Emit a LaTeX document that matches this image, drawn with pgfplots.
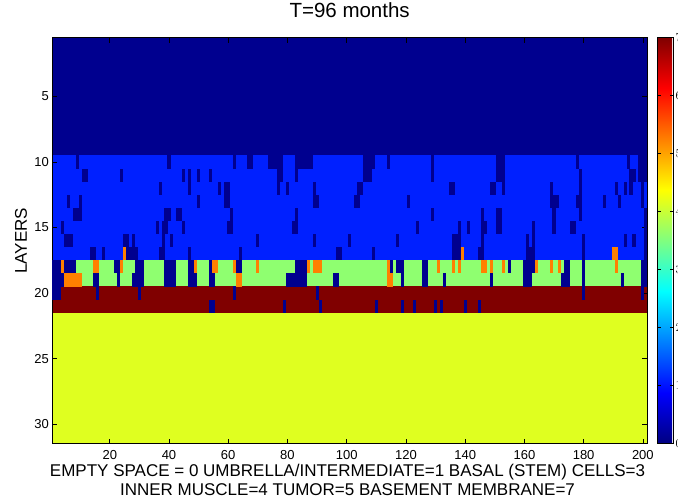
\documentclass[border=0pt]{standalone}
\usepackage{fontspec}
\setmainfont{Liberation Sans}
\usepackage{pgfplots}
\pgfplotsset{compat=1.18}
\definecolor{c0}{RGB}{0,0,143}
\definecolor{c1}{RGB}{0,32,255}
\definecolor{c3}{RGB}{143,255,112}
\definecolor{c4}{RGB}{223,255,32}
\definecolor{c5}{RGB}{255,128,0}
\definecolor{c7}{RGB}{128,0,0}
\pgfdeclareplotmark{cell}{\pgfpathrectangle{\pgfqpoint{-1.53pt}{-6.6pt}}{\pgfqpoint{3.06pt}{13.2pt}}\pgfusepathqfill}
\begin{document}
\begin{tikzpicture}
\useasboundingbox (-52pt,-58.3pt) rectangle (626pt,443.7pt);
\begin{axis}[
  at={(0pt,0pt)}, anchor=south west,
  scale only axis, width=595.3pt, height=406.1pt,
  xmin=0.5, xmax=201.5, ymin=0.5, ymax=31.5, y dir=reverse,
  xtick={20,40,...,200}, ytick={5,10,...,30},
  axis on top, tick align=inside, major tick length=5pt,
  axis line style={line width=0.9pt},
  every tick/.style={black, line width=0.6pt},
  ticklabel style={font=\fontsize{13}{13}\selectfont},
  /pgf/number format/assume math mode=true,
  xticklabel style={anchor=base, yshift=-15.6pt},
  yticklabel style={anchor=east, inner sep=0pt, xshift=-3pt},
  title={T=96 months},
  title style={font=\fontsize{20.5}{20.5}\selectfont, at={(axis description cs:0.5,1)}, anchor=base, yshift=14.3pt},
  ylabel={LAYERS},
  ylabel style={font=\fontsize{17}{17}\selectfont, at={(axis description cs:-0.042,0.5)}, anchor=base},
  xlabel={EMPTY SPACE = 0 UMBRELLA/INTERMEDIATE=1 BASAL (STEM) CELLS=3\\INNER MUSCLE=4 TUMOR=5 BASEMENT MEMBRANE=7},
  xlabel style={font=\fontsize{17}{19}\selectfont, align=center, at={(axis description cs:0.4964,0)}, anchor=north, inner sep=0pt, yshift=-20pt},
  colormap/jet, colorbar, point meta min=0, point meta max=7,
  colorbar style={at={(parent axis.north east)}, anchor=north west, xshift=2pt, width=15.4pt,
    y dir=normal, ytick={0,...,7}, xtick=\empty,
    yticklabel style={font=\fontsize{13}{13}\selectfont, anchor=west, inner sep=0pt, xshift=2.3pt},
    major tick length=3pt, tick align=inside, axis line style={line width=0.9pt}},
]
% background layers
\addplot[fill=c0, draw=none] coordinates {(0.5,0.5) (201.5,0.5) (201.5,9.5) (0.5,9.5)} -- cycle;
\addplot[fill=c1, draw=none] coordinates {(0.5,9.5) (201.5,9.5) (201.5,17.5) (0.5,17.5)} -- cycle;
\addplot[fill=c3, draw=none] coordinates {(0.5,17.5) (201.5,17.5) (201.5,19.5) (0.5,19.5)} -- cycle;
\addplot[fill=c7, draw=none] coordinates {(0.5,19.5) (201.5,19.5) (201.5,21.5) (0.5,21.5)} -- cycle;
\addplot[fill=c4, draw=none] coordinates {(0.5,21.5) (201.5,21.5) (201.5,31.5) (0.5,31.5)} -- cycle;
% empty space cells (0)
\addplot[only marks, mark=cell, color=c0] coordinates {
(9,10)(40,10)(62,10)(67,10)(68,10)(74,10)(75,10)(76,10)(77,10)(78,10)(83,10)(84,10)(85,10)(86,10)(87,10)(88,10)(106,10)(107,10)(108,10)(109,10)(114,10)(129,10)(151,10)(152,10)(153,10)(178,10)(195,10)(199,10)(200,10)(201,10)
(11,11)(12,11)(24,11)(45,11)(47,11)(50,11)(54,11)(77,11)(78,11)(83,11)(106,11)(107,11)(108,11)(129,11)(151,11)(152,11)(153,11)(179,11)(196,11)(197,11)(199,11)(200,11)(201,11)
(37,12)(47,12)(57,12)(59,12)(60,12)(77,12)(80,12)(89,12)(104,12)(105,12)(135,12)(136,12)(149,12)(150,12)(153,12)(169,12)(179,12)(191,12)(194,12)(196,12)(200,12)
(6,13)(10,13)(50,13)(59,13)(60,13)(89,13)(90,13)(103,13)(104,13)(121,13)(169,13)(170,13)(171,13)(178,13)(179,13)(187,13)(192,13)(200,13)
(8,14)(9,14)(10,14)(39,14)(40,14)(43,14)(44,14)(61,14)(83,14)(129,14)(146,14)(151,14)(152,14)(170,14)(179,14)(201,14)
(4,15)(36,15)(38,15)(39,15)(45,15)(60,15)(61,15)(82,15)(83,15)(124,15)(138,15)(141,15)(146,15)(147,15)(151,15)(152,15)(163,15)(170,15)(176,15)(177,15)(201,15)
(5,16)(6,16)(7,16)(25,16)(26,16)(28,16)(38,16)(41,16)(70,16)(89,16)(101,16)(117,16)(136,16)(137,16)(138,16)(146,16)(161,16)(163,16)(180,16)(194,16)(197,16)(201,16)
(14,17)(15,17)(18,17)(26,17)(27,17)(28,17)(29,17)(37,17)(38,17)(47,17)(64,17)(97,17)(98,17)(109,17)(136,17)(137,17)(138,17)(145,17)(146,17)(161,17)(162,17)(163,17)(180,17)(201,17)
(1,18)(2,18)(3,18)(5,18)(6,18)(7,18)(8,18)(22,18)(23,18)(29,18)(30,18)(31,18)(39,18)(40,18)(41,18)(42,18)(47,18)(48,18)(54,18)(63,18)(64,18)(83,18)(84,18)(85,18)(86,18)(115,18)(117,18)(118,18)(119,18)(126,18)(127,18)(155,18)(160,18)(161,18)(162,18)(163,18)(174,18)(175,18)(180,18)(200,18)(201,18)
(1,19)(2,19)(3,19)(4,19)(15,19)(16,19)(23,19)(28,19)(29,19)(30,19)(31,19)(39,19)(40,19)(41,19)(42,19)(47,19)(48,19)(49,19)(54,19)(55,19)(80,19)(81,19)(82,19)(83,19)(84,19)(85,19)(86,19)(96,19)(97,19)(119,19)(126,19)(127,19)(133,19)(149,19)(160,19)(161,19)(162,19)(173,19)(174,19)(175,19)(180,19)(193,19)(200,19)(201,19)
(1,20)(2,20)(3,20)(16,20)(30,20)(62,20)(90,20)(180,20)(200,20)
(54,21)(55,21)(79,21)(91,21)(110,21)(119,21)(123,21)(130,21)(132,21)(140,21)(145,21)
};
% tumor cells (5)
\addplot[only marks, mark=cell, color=c5] coordinates {
(25,17)(139,17)(190,17)(191,17)
(4,18)(15,18)(16,18)(24,18)(49,18)(55,18)(56,18)(62,18)(70,18)(87,18)(89,18)(90,18)(91,18)(114,18)(131,18)(136,18)(138,18)(146,18)(147,18)(149,18)(153,18)(164,18)(169,18)(172,18)(191,18)
(5,19)(6,19)(7,19)(8,19)(9,19)(10,19)(63,19)(64,19)(114,19)(115,19)
};
\end{axis}
\end{tikzpicture}
\end{document}
